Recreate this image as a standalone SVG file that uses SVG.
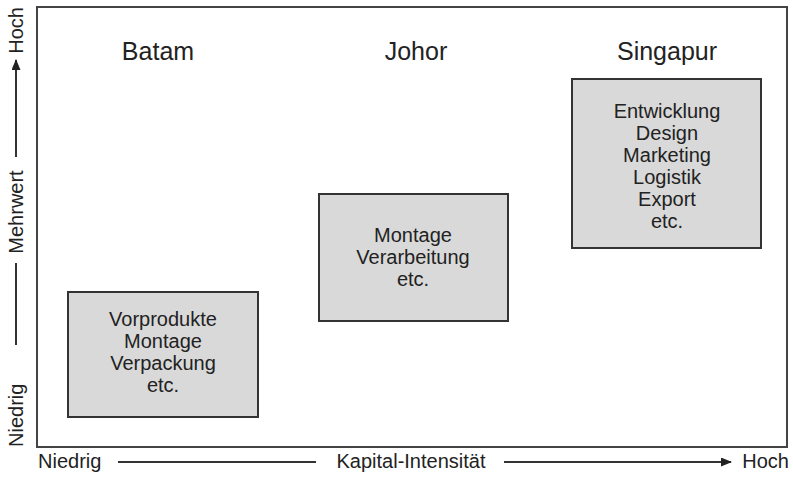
<svg xmlns="http://www.w3.org/2000/svg" width="793" height="477" viewBox="0 0 793 477">
<style>
text{font-family:"Liberation Sans",Arial,sans-serif;fill:#222;}
.h{font-size:25px;text-anchor:middle;}
.b{font-size:20px;text-anchor:middle;}
.a{font-size:20px;}
.box{fill:#d9d9d9;stroke:#333;stroke-width:2;}
.ln{stroke:#333;stroke-width:2;fill:none;}
</style>
<defs>
<marker id="ar" markerWidth="11" markerHeight="9" refX="10" refY="4.5" orient="auto" markerUnits="userSpaceOnUse">
<path d="M0,0 L11,4.5 L0,9 Z" fill="#222"/>
</marker>
</defs>
<rect x="37" y="7" width="750" height="440" fill="#fff" stroke="#444" stroke-width="2"/>
<g id="batam">
<text class="h" x="158" y="60">Batam</text>
<rect class="box" x="68" y="292" width="190" height="125"/>
<text class="b" x="163" y="326">Vorprodukte</text>
<text class="b" x="163" y="348">Montage</text>
<text class="b" x="163" y="370">Verpackung</text>
<text class="b" x="163" y="392">etc.</text>
</g>
<g id="johor">
<text class="h" x="416" y="60">Johor</text>
<rect class="box" x="319" y="194" width="189" height="127"/>
<text class="b" x="413" y="242">Montage</text>
<text class="b" x="413" y="264">Verarbeitung</text>
<text class="b" x="413" y="286">etc.</text>
</g>
<g id="singapur">
<text class="h" x="667" y="60">Singapur</text>
<rect class="box" x="572" y="79" width="189" height="169"/>
<text class="b" x="667" y="118">Entwicklung</text>
<text class="b" x="667" y="140">Design</text>
<text class="b" x="667" y="162">Marketing</text>
<text class="b" x="667" y="184">Logistik</text>
<text class="b" x="667" y="206">Export</text>
<text class="b" x="667" y="228">etc.</text>
</g>
<g id="connectors">
<line class="ln" x1="118" y1="462" x2="316" y2="462"/>
<line class="ln" x1="504" y1="462" x2="731" y2="462" marker-end="url(#ar)"/>
<line class="ln" x1="16" y1="345" x2="16" y2="263"/>
<line class="ln" x1="16" y1="157" x2="16" y2="60" marker-end="url(#ar)"/>
</g>
<g id="axes">
<text class="a" x="38" y="468">Niedrig</text>
<text class="a" x="411" y="468" text-anchor="middle">Kapital-Intensität</text>
<text class="a" x="789" y="468" text-anchor="end">Hoch</text>
<text class="a" transform="translate(23,447) rotate(-90)">Niedrig</text>
<text class="a" transform="translate(23,212) rotate(-90)" text-anchor="middle">Mehrwert</text>
<text class="a" transform="translate(23,7) rotate(-90)" text-anchor="end">Hoch</text>
</g>
</svg>
